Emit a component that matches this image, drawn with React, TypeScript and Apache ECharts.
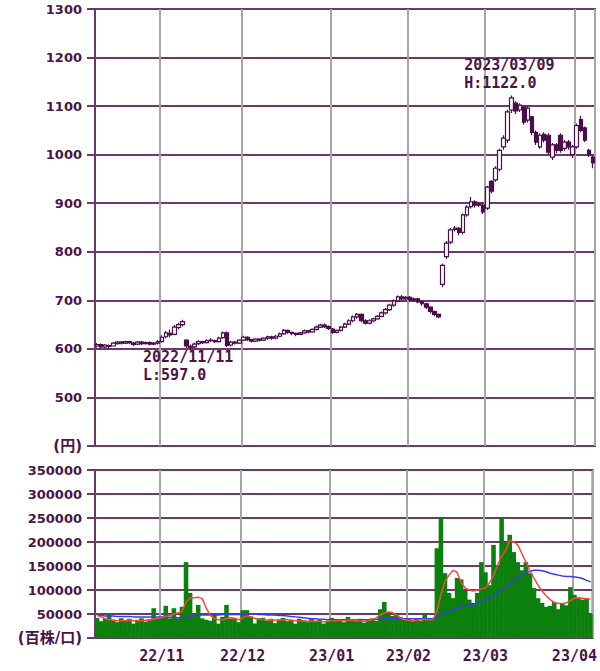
import React, { useEffect, useRef } from 'react';
import * as echarts from 'echarts';

// ---- categories (trading days) ----
const oct = ['2022/10/07','2022/10/11','2022/10/12','2022/10/13','2022/10/14','2022/10/17','2022/10/18','2022/10/19','2022/10/20','2022/10/21','2022/10/24','2022/10/25','2022/10/26','2022/10/27','2022/10/28','2022/10/31'];
const nov = ['2022/11/01','2022/11/02','2022/11/04','2022/11/07','2022/11/08','2022/11/09','2022/11/10','2022/11/11','2022/11/14','2022/11/15','2022/11/16','2022/11/17','2022/11/18','2022/11/21','2022/11/22','2022/11/24','2022/11/25','2022/11/28','2022/11/29','2022/11/30'];
const dec = ['2022/12/01','2022/12/02','2022/12/05','2022/12/06','2022/12/07','2022/12/08','2022/12/09','2022/12/12','2022/12/13','2022/12/14','2022/12/15','2022/12/16','2022/12/19','2022/12/20','2022/12/21','2022/12/22','2022/12/23','2022/12/26','2022/12/27','2022/12/28','2022/12/29','2022/12/30'];
const jan = ['2023/01/04','2023/01/05','2023/01/06','2023/01/10','2023/01/11','2023/01/12','2023/01/13','2023/01/16','2023/01/17','2023/01/18','2023/01/19','2023/01/20','2023/01/23','2023/01/24','2023/01/25','2023/01/26','2023/01/27','2023/01/30','2023/01/31'];
const feb = ['2023/02/01','2023/02/02','2023/02/03','2023/02/06','2023/02/07','2023/02/08','2023/02/09','2023/02/10','2023/02/13','2023/02/14','2023/02/15','2023/02/16','2023/02/17','2023/02/20','2023/02/21','2023/02/22','2023/02/24','2023/02/27','2023/02/28'];
const mar = ['2023/03/01','2023/03/02','2023/03/03','2023/03/06','2023/03/07','2023/03/08','2023/03/09','2023/03/10','2023/03/13','2023/03/14','2023/03/15','2023/03/16','2023/03/17','2023/03/20','2023/03/22','2023/03/23','2023/03/24','2023/03/27','2023/03/28','2023/03/29','2023/03/30','2023/03/31'];
const apr = ['2023/04/03','2023/04/04','2023/04/05','2023/04/06','2023/04/07'];
const dates = [...oct, ...nov, ...dec, ...jan, ...feb, ...mar, ...apr];

// ---- price: [open, close, low, high] ----
const ohlc: number[][] = [
  [606,609,603,612],[609,604,601,611],[604,608,602,610],[607,605,600,609],[606,612,605,614],
  [611,614,609,616],[614,612,609,616],[612,615,610,617],[615,613,610,617],[612,609,606,614],
  [610,614,608,616],[614,611,608,616],[611,613,609,615],[613,610,607,615],[610,612,608,614],
  [612,615,609,618],
  [615,624,613,628],[625,633,622,637],[632,629,624,640],[630,645,628,649],[644,650,640,654],
  [650,656,646,660],[618,606,602,620],[605,603,597,609],[604,610,601,613],[611,615,608,618],
  [615,613,610,617],[613,617,611,620],[617,618,614,622],[617,615,612,619],[615,622,613,625],
  [623,633,621,636],[633,607,604,636],[608,614,605,616],[614,612,609,616],[612,618,610,620],
  [618,624,616,627],[624,619,616,626],[619,616,613,621],[616,620,614,622],[620,618,615,622],
  [618,622,616,624],[622,625,619,627],[625,622,619,627],[622,626,620,629],[626,631,624,634],
  [631,638,629,641],[638,634,631,640],[634,632,628,636],[632,630,626,634],[630,633,628,635],
  [633,637,631,640],[637,635,632,639],[635,640,633,642],[640,645,638,648],[645,649,643,652],
  [649,646,643,653],[646,642,639,648],
  [641,634,631,643],[634,638,632,640],[638,645,636,647],[645,651,643,654],[651,658,649,661],
  [658,666,655,669],[666,671,662,674],[671,658,655,673],[658,653,650,661],[653,658,651,661],
  [658,662,655,664],[662,667,660,670],[667,674,665,677],[674,681,671,684],[681,690,678,693],
  [690,699,687,702],[699,707,696,710],[707,703,699,711],[703,706,700,709],
  [706,701,698,709],[701,703,697,706],[703,697,694,705],[697,693,689,699],[693,686,682,695],
  [686,677,673,688],[677,671,667,679],[671,666,663,673],[733,772,727,776],[790,818,785,822],
  [820,845,816,849],[846,849,842,853],[848,840,834,851],[840,876,836,879],[876,892,872,896],
  [893,903,889,913],[903,896,891,906],[896,898,892,903],[896,882,878,900],
  [890,933,886,936],[945,925,920,948],[948,972,944,976],[970,1009,966,1012],[1016,1034,1010,1040],
  [1030,1088,1024,1092],[1092,1117,1086,1122],[1106,1090,1084,1110],[1092,1102,1088,1106],[1098,1067,1062,1101],
  [1071,1096,1066,1100],[1078,1046,1040,1080],[1046,1026,1020,1050],[1016,1040,1012,1044],[1042,1030,1025,1046],
  [1040,1005,1000,1044],[995,1020,989,1024],[1020,1009,1003,1024],[1040,1009,1004,1044],[1013,1026,1008,1030],
  [1026,1016,1010,1030],[1000,1016,993,1020],
  [1016,1060,1012,1064],[1072,1050,1046,1080],[1055,1030,1026,1058],[1009,1000,995,1012],[995,983,972,998],
];

// ---- volume (百株) ----
const volumes = [
  42000,35000,40000,52000,38000,33000,41000,36000,40000,30000,
  38000,41000,34000,39000,62000,40000,42000,67000,41000,62000,
  41000,65000,158000,94000,48000,69000,41000,38000,36000,52000,
  30000,44000,69000,40000,41000,33000,58000,58000,45000,30000,
  41000,42000,36000,40000,31000,39000,42000,35000,38000,30000,
  40000,37000,33000,41000,35000,38000,30000,34000,42000,36000,
  39000,33000,44000,38000,35000,40000,32000,37000,41000,36000,
  60000,75000,50000,46000,48000,44000,38000,40000,35000,41000,
  36000,49000,38000,40000,187000,250000,135000,94000,83000,125000,
  122000,98000,80000,73000,94000,158000,137000,110000,194000,152000,
  252000,198000,215000,179000,158000,141000,158000,135000,104000,83000,
  73000,65000,67000,75000,60000,72000,68000,106000,90000,83000,
  80000,83000,50000,
];
const volAvgShort = [
  48000,44000,40000,38000,37000,36000,36000,36000,37000,36000,
  36000,36000,37000,37000,40000,41000,42000,45000,47000,50000,
  52000,55000,75000,83000,84000,85000,82000,62000,47000,41000,
  38000,38000,40000,42000,41000,38000,42000,46000,44000,41000,
  39000,38000,37000,38000,37000,37000,38000,38000,37000,36000,
  36000,35000,35000,36000,35000,35000,34000,35000,36000,36000,
  37000,36000,37000,37000,37000,36000,35000,36000,38000,42000,
  48000,52000,54000,53000,48000,42000,38000,37000,36000,37000,
  38000,39000,38000,38000,55000,90000,118000,131000,141000,137000,
  115000,104000,100000,98000,100000,102000,104000,115000,130000,152000,
  170000,182000,204000,200000,194000,176000,158000,140000,125000,110000,
  98000,88000,80000,74000,72000,72000,73000,78000,83000,84000,
  83000,82000,81000,
];
const volAvgLong = [
  47000,47000,46000,46000,46000,45000,45000,45000,45000,44000,
  44000,44000,44000,44000,44000,44000,44000,44000,43000,43000,
  42000,42000,43000,45000,47000,48000,48000,48000,48000,48000,
  48000,49000,49000,49000,49000,49000,49000,50000,50000,50000,
  49000,49000,48000,48000,48000,47000,47000,46000,45000,44000,
  43000,42000,41000,40000,40000,39000,39000,38000,38000,38000,
  38000,38000,38000,38000,38000,38000,38000,38000,38000,39000,
  39000,40000,40000,40000,40000,40000,40000,40000,40000,40000,
  40000,40000,40000,40000,44000,48000,52000,56000,59000,62000,
  65000,67000,69000,71000,73000,76000,79000,83000,88000,95000,
  102000,107000,113000,120000,126000,131000,136000,139000,141000,141000,
  140000,138000,135000,133000,131000,129000,128000,128000,127000,126000,
  124000,120000,117000,
];

const priceMin = 400;
const priceMax = 1300;
const priceStep = 100;
const volMin = 0;
const volMax = 350000;
const volStep = 50000;
const priceUnit = '(円)';
const volUnit = '(百株/口)';

const PURPLE = '#6b3a6b';
const TEXT = '#4a1448';
const CANDLE = '#4a0f4a';
const GREY = '#a6a6a6';
const MONO = '"DejaVu Sans Mono", "Noto Sans CJK JP", monospace';
const SANS = '"DejaVu Sans", "Noto Sans CJK JP", sans-serif';

export default function App() {
  const ref = useRef<HTMLDivElement>(null);
  useEffect(() => {
    if (!ref.current) return;
    const chart = echarts.init(ref.current, undefined, { renderer: 'svg' });

    const monthStart = new Set<number>();
    dates.forEach((d, i) => {
      if (i > 0 && d.slice(0, 7) !== dates[i - 1].slice(0, 7)) monthStart.add(i);
    });
    const isStart = (i: number) => monthStart.has(i);

    let hiIdx = 0, loIdx = 0;
    ohlc.forEach((c, i) => {
      if (c[3] > ohlc[hiIdx][3]) hiIdx = i;
      if (c[2] < ohlc[loIdx][2]) loIdx = i;
    });
    const hiVal = ohlc[hiIdx][3];
    const loVal = ohlc[loIdx][2];

    const annoLabel = {
      show: true,
      align: 'left',
      verticalAlign: 'top',
      fontFamily: MONO,
      fontWeight: 'bold',
      fontSize: 15,
      lineHeight: 18,
      color: TEXT,
    };

    const unitRich = {
      u: { fontFamily: SANS, fontWeight: 'bold', fontSize: 15, color: TEXT },
    };

    const yLabel = {
      fontFamily: SANS,
      fontWeight: 'bold',
      fontSize: 13,
      color: TEXT,
      margin: 13,
      rich: unitRich,
    };

    const xCommon = {
      type: 'category',
      data: dates,
      boundaryGap: true,
      axisLine: { show: false },
      axisTick: { show: false },
      splitLine: {
        show: true,
        interval: (i: number) => isStart(i),
        lineStyle: { color: GREY, width: 2 },
      },
    };

    chart.setOption({
      animation: false,
      backgroundColor: '#ffffff',
      grid: [
        { left: 95, right: 5, top: 9, height: 437, show: true, borderColor: PURPLE, borderWidth: 2, backgroundColor: 'transparent' },
        { left: 95, right: 5, top: 470, height: 168, show: true, borderColor: PURPLE, borderWidth: 2, backgroundColor: 'transparent' },
      ],
      xAxis: [
        { ...xCommon, gridIndex: 0, axisLabel: { show: false } },
        {
          ...xCommon,
          gridIndex: 1,
          axisLabel: {
            show: true,
            interval: (i: number) => isStart(i),
            formatter: (v: string) => v.slice(2, 7),
            fontFamily: MONO,
            fontWeight: 'bold',
            fontSize: 15,
            color: TEXT,
            margin: 10,
          },
        },
      ],
      yAxis: [
        {
          type: 'value',
          gridIndex: 0,
          min: priceMin,
          max: priceMax,
          interval: priceStep,
          axisLine: { show: false },
          axisTick: { show: true, length: 8, lineStyle: { color: PURPLE, width: 2 } },
          splitLine: { show: true, lineStyle: { color: PURPLE, width: 2 } },
          axisLabel: { ...yLabel, formatter: (v: number) => (v === priceMin ? `{u|${priceUnit}}` : String(v)) },
        },
        {
          type: 'value',
          gridIndex: 1,
          min: volMin,
          max: volMax,
          interval: volStep,
          axisLine: { show: false },
          axisTick: { show: true, length: 8, lineStyle: { color: PURPLE, width: 2 } },
          splitLine: { show: true, lineStyle: { color: PURPLE, width: 2 } },
          axisLabel: { ...yLabel, formatter: (v: number) => (v === volMin ? `{u|${volUnit}}` : String(v)) },
        },
      ],
      series: [
        {
          type: 'candlestick',
          xAxisIndex: 0,
          yAxisIndex: 0,
          data: ohlc,
          barWidth: 4,
          itemStyle: {
            color: '#ffffff',
            color0: CANDLE,
            borderColor: CANDLE,
            borderColor0: CANDLE,
            borderWidth: 1.2,
          },
          markPoint: {
            symbol: 'circle',
            symbolSize: 1,
            itemStyle: { color: 'rgba(0,0,0,0)' },
            data: [
              {
                coord: [dates[hiIdx], hiVal],
                label: { ...annoLabel, position: [-47, -39], formatter: `${dates[hiIdx]}\nH:${hiVal.toFixed(1)}` },
              },
              {
                coord: [dates[loIdx], loVal],
                label: { ...annoLabel, position: [-47, -2], formatter: `${dates[loIdx]}\nL:${loVal.toFixed(1)}` },
              },
            ],
          },
        },
        {
          type: 'bar',
          xAxisIndex: 1,
          yAxisIndex: 1,
          data: volumes,
          barWidth: 4.6,
          itemStyle: { color: '#0c800c' },
        },
        {
          type: 'line',
          xAxisIndex: 1,
          yAxisIndex: 1,
          data: volAvgLong,
          symbol: 'none',
          lineStyle: { color: '#3a3ae6', width: 1.5 },
        },
        {
          type: 'line',
          xAxisIndex: 1,
          yAxisIndex: 1,
          data: volAvgShort,
          symbol: 'none',
          lineStyle: { color: '#f04a3a', width: 1.5 },
        },
      ],
    });
    return () => chart.dispose();
  }, []);

  return (
    <div
      ref={ref}
      style={{ position: 'fixed', left: 0, top: 0, width: 600, height: 671, background: '#fff' }}
    />
  );
}
